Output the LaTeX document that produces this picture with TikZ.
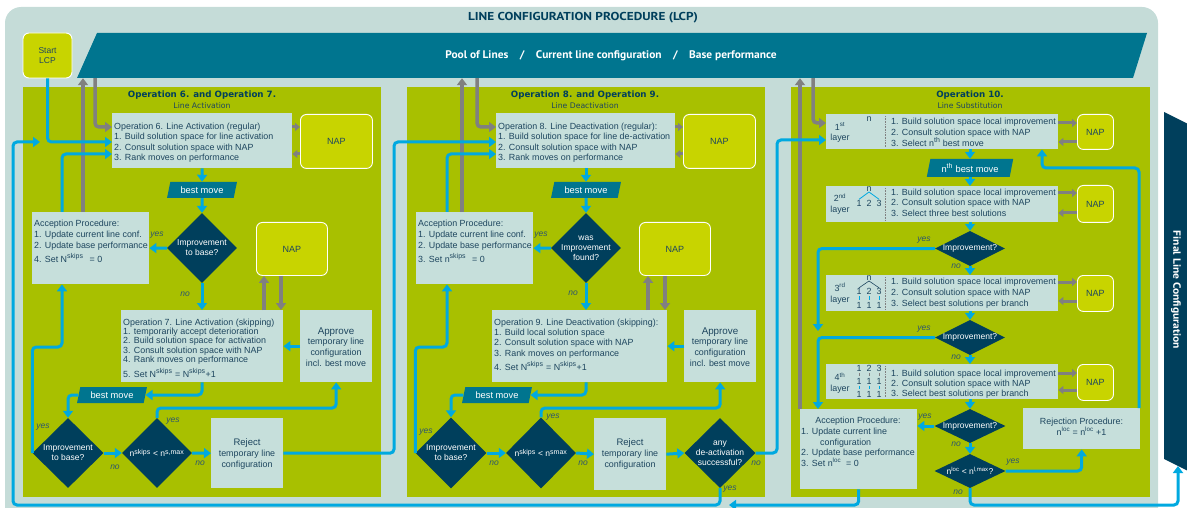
\documentclass[tikz,border=0pt]{standalone}
\usepackage{fontspec}
\setmainfont{Liberation Sans}
\newfontfamily\headfont{PT Sans}
\newfontfamily\opfont{DejaVu Sans}
\usetikzlibrary{shapes.geometric,arrows.meta}

\definecolor{cbg}{HTML}{C5DCD8}
\definecolor{cbox}{HTML}{C6DFDB}
\definecolor{colive}{HTML}{A8C000}
\definecolor{cnap}{HTML}{C8D400}
\definecolor{cteal}{HTML}{00758F}
\definecolor{cnavy}{HTML}{003F5C}
\definecolor{ccyan}{HTML}{00A9E0}
\definecolor{cgray}{HTML}{808080}
\definecolor{ctext}{HTML}{1E465F}
\definecolor{clabel}{HTML}{2B5570}

% larger superscript for counters
\newcommand\supx[1]{\textsuperscript{\fontsize{7}{8}\selectfont #1}}

\tikzset{
  panel/.style={fill=colive, inner sep=0pt, anchor=north west},
  lbox/.style={fill=cbox, inner sep=0pt, anchor=north west},
  nap/.style={fill=cnap, draw=white, line width=0.9pt, rounded corners=6pt, inner sep=0pt,
    anchor=north west, text=ctext, font=\fontsize{9}{10}\selectfont},
  dia/.style={diamond, fill=cnavy, inner sep=0pt},
  dtext/.style={text=white, font=\fontsize{8.5}{10}\selectfont, align=center, inner sep=0pt},
  para/.style={trapezium, trapezium left angle=72, trapezium right angle=108,
    trapezium stretches=true, fill=cteal, text=white, inner sep=0pt,
    font=\fontsize{9.3}{10}\selectfont},
  bt/.style={text=ctext, align=left, inner sep=0pt, anchor=north west,
    font=\fontsize{8.9}{10.4}\selectfont},
  ct/.style={text=ctext, align=center, inner sep=0pt, font=\fontsize{8.9}{10.7}\selectfont},
  dg/.style={text=ctext, inner sep=0.4pt, font=\fontsize{8.9}{10}\selectfont},
  yn/.style={text=clabel, font=\fontsize{8.5}{10}\selectfont\itshape, inner sep=0pt},
  carr/.style={draw=ccyan, line width=3pt, rounded corners=4pt,
    -{Triangle[width=10pt,length=7pt]}},
  garr/.style={draw=cgray, line width=3.5pt, rounded corners=4pt,
    -{Triangle[width=10pt,length=7pt]}},
  gsm/.style={draw=cgray, line width=3pt, -{Triangle[width=8pt,length=5pt]}},
  ptitle/.style={text=cnavy, font=\opfont\bfseries\fontsize{8.7}{10}\selectfont, inner sep=0pt},
  psub/.style={text=ctext, font=\opfont\fontsize{7.7}{10}\selectfont, inner sep=0pt},
}

\begin{document}
\begin{tikzpicture}[x=1pt,y=-1pt]
\clip (0,0) rectangle (1187,508);

% background frame
\fill[cbg, rounded corners=16pt] (5,7) rectangle (1158,540);
\node[text=cnavy, inner sep=0pt, font=\headfont\bfseries\fontsize{11.5}{12}\selectfont] (title) at (583,18)
  {\scalebox{1.15}[1]{LINE CONFIGURATION PROCEDURE (LCP)}};

% pool banner
\fill[cteal] (97,33) -- (1147,33) -- (1133,78) -- (77,78) -- cycle;
\node[inner sep=0pt, minimum width=1000pt, minimum height=45pt, text=white,
  font=\headfont\bfseries\fontsize{11}{12}\selectfont] (pool) at (611,55.5)
  {\scalebox{1.04}[1]{Pool of Lines\quad /\quad Current line configuration\quad /\quad Base performance}};

% final banner
\fill[cnavy] (1164,112) -- (1190,125) -- (1190,472) -- (1164,459) -- cycle;
\node[rotate=-90, text=white, inner sep=0pt,
  font=\headfont\bfseries\fontsize{10.5}{11}\selectfont] (fin) at (1176,290)
  {\scalebox{1.1}[1]{Final Line Configuration}};

% start
\node[nap, anchor=center, minimum width=49pt, minimum height=45pt, align=center,
  font=\fontsize{8.5}{10}\selectfont] (start) at (47.5,55.5) {Start\\LCP};

% panels
\node[panel, minimum width=358pt, minimum height=410pt] (p1) at (23,87) {};
\node[panel, minimum width=358pt, minimum height=410pt] (p2) at (407,87) {};
\node[panel, minimum width=359pt, minimum height=410pt] (p3) at (791,87) {};

\node[ptitle] (p1h) at (202,95) {Operation 6. and Operation 7.};
\node[psub] (p1s) at (202,105.5) {Line Activation};
\node[ptitle] (p2h) at (585,95) {Operation 8. and Operation 9.};
\node[psub] (p2s) at (585,105.5) {Line Deactivation};
\node[ptitle] (p3h) at (970,95) {Operation 10.};
\node[psub] (p3s) at (970,105.5) {Line Substitution};

% ---------- panel 1: line activation ----------
\node[lbox, minimum width=180pt, minimum height=55pt] (op6) at (112,113) {};
\node[bt] (op6t) at (114,122.7) {Operation 6. Line Activation (regular)\\
  1. Build solution space for line activation\\2. Consult solution space with NAP\\
  3. Rank moves on performance};
\node[nap, minimum width=72pt, minimum height=54pt] (nap1) at (300,114) {NAP};
\node[para, minimum width=70pt, minimum height=16pt] (bm1) at (202,190) {best move};
\node[dia, minimum width=70pt, minimum height=70pt] (d1) at (202,248) {};
\node[dtext] (d1t) at (d1) {Improvement\\to base?};
\node[lbox, minimum width=117pt, minimum height=72pt] (acc1) at (32,212) {};
\node[bt, font=\fontsize{8.9}{11}\selectfont] (acc1t) at (34,219.5) {Acception Procedure:\\
  1. Update current line conf.\\2. Update base performance\\[3pt]
  4. Set N\supx{skips}\hspace{6pt}= 0};
\node[nap, minimum width=71pt, minimum height=53pt] (nap2) at (256,222) {NAP};
\node[lbox, minimum width=162pt, minimum height=72pt] (op7) at (121,310) {};
\node[bt, font=\fontsize{8.9}{9.3}\selectfont] (op7t) at (123,318.5) {Operation 7. Line Activation (skipping)\\
  1. temporarily accept deterioration\\2. Build solution space for activation\\
  3. Consult solution space with NAP\\4. Rank moves on performance\\[3pt]
  5. Set N\supx{skips} = N\supx{skips}+1};
\node[lbox, minimum width=72pt, minimum height=72pt] (appr1) at (300,310) {};
\node[ct] (appr1t) at (336,347) {{\fontsize{9.8}{11}\selectfont Approve}\\temporary line\\configuration\\incl. best move};
\node[para, minimum width=70pt, minimum height=16pt] (bm2) at (112,395) {best move};
\node[dia, minimum width=71pt, minimum height=70pt] (d2) at (68,453) {};
\node[dtext] (d2t) at (d2) {Improvement\\to base?};
\node[dia, minimum width=70pt, minimum height=70pt] (d3) at (157,453) {};
\node[dtext] (d3t) at (d3) {n\supx{skips} < n\supx{s,max}};
\node[lbox, minimum width=72pt, minimum height=70pt] (rej1) at (211,418) {};
\node[ct] (rej1t) at (247,454) {{\fontsize{9.5}{11}\selectfont Reject}\\temporary line\\configuration};

% ---------- panel 2: line deactivation ----------
\node[lbox, minimum width=179pt, minimum height=55pt] (op8) at (496,113) {};
\node[bt] (op8t) at (498,122.7) {Operation 8. Line Deactivation (regular):\\
  1. Build solution space for line de-activation\\2. Consult solution space with NAP\\
  3. Rank moves on performance};
\node[nap, minimum width=72pt, minimum height=54pt] (nap3) at (683,114) {NAP};
\node[para, minimum width=70pt, minimum height=16pt] (bm3) at (586,190) {best move};
\node[dia, minimum width=70pt, minimum height=70pt] (d4) at (586,248) {};
\node[dtext] (d4t) at (d4) {was\\Improvement\\found?};
\node[lbox, minimum width=117pt, minimum height=72pt] (acc2) at (416,212) {};
\node[bt, font=\fontsize{8.9}{11}\selectfont] (acc2t) at (418,219.5) {Acception Procedure:\\
  1. Update current line conf.\\2. Update base performance\\[3pt]
  3. Set n\supx{skips}\hspace{6pt}= 0};
\node[nap, minimum width=71pt, minimum height=53pt] (nap4) at (639,222) {NAP};
\node[lbox, minimum width=175pt, minimum height=72pt] (op9) at (492,310) {};
\node[bt, font=\fontsize{8.9}{10.3}\selectfont] (op9t) at (494,318.5) {Operation 9. Line Deactivation (skipping):\\
  1. Build local solution space\\2. Consult solution space with NAP\\
  3. Rank moves on performance\\[3pt]
  4. Set N\supx{skips} = N\supx{skips}+1};
\node[lbox, minimum width=72pt, minimum height=72pt] (appr2) at (684,310) {};
\node[ct] (appr2t) at (720,347) {{\fontsize{9.8}{11}\selectfont Approve}\\temporary line\\configuration\\incl. best move};
\node[para, minimum width=70pt, minimum height=16pt] (bm4) at (497,395) {best move};
\node[dia, minimum width=71pt, minimum height=71pt] (d5) at (451,453) {};
\node[dtext] (d5t) at (d5) {Improvement\\to base?};
\node[dia, minimum width=70pt, minimum height=71pt] (d6) at (541,453) {};
\node[dtext] (d6t) at (d6) {n\supx{skips} < n\supx{smax}};
\node[lbox, minimum width=72pt, minimum height=72pt] (rej2) at (594,418) {};
\node[ct] (rej2t) at (630,454) {{\fontsize{9.5}{11}\selectfont Reject}\\temporary line\\configuration};
\node[dia, minimum width=71pt, minimum height=70pt] (d7) at (720,453) {};
\node[dtext] (d7t) at (d7) {any\\de-activation\\successful?};

% ---------- panel 3: line substitution ----------
\node[lbox, minimum width=232pt, minimum height=35pt] (lay1) at (826,114) {};
\node[lbox, minimum width=232pt, minimum height=36pt] (lay2) at (826,186) {};
\node[lbox, minimum width=232pt, minimum height=36pt] (lay3) at (826,275) {};
\node[lbox, minimum width=232pt, minimum height=35pt] (lay4) at (826,364) {};
\node[nap, minimum width=36pt, minimum height=35pt] (nl1) at (1077,114) {NAP};
\node[nap, minimum width=36pt, minimum height=37pt] (nl2) at (1077,185) {NAP};
\node[nap, minimum width=36pt, minimum height=36pt] (nl3) at (1077,275) {NAP};
\node[nap, minimum width=36pt, minimum height=36pt] (nl4) at (1077,364) {NAP};

\coordinate (sep) at (885,0);
\foreach \i in {1,...,4}
  \draw[cgray, densely dotted, line width=0.6pt, shorten >=2pt, shorten <=2pt]
    (lay\i.north -| sep) -- (lay\i.south -| sep);

\node[bt, font=\fontsize{8.9}{11.2}\selectfont] (lay1t) at (891,117.7) {1. Build solution space local improvement\\
  2. Consult solution space with NAP\\3. Select n\supx{th} best move};
\node[bt, font=\fontsize{8.9}{10.6}\selectfont] (lay2t) at (891,188.7) {1. Build solution space local improvement\\
  2. Consult solution space with NAP\\3. Select three best solutions};
\node[bt, font=\fontsize{8.9}{10.9}\selectfont] (lay3t) at (891,277.7) {1. Build solution space local improvement\\
  2. Consult solution space with NAP\\3. Select best solutions per branch};
\node[bt, font=\fontsize{8.9}{10.2}\selectfont] (lay4t) at (891,369.7) {1. Build solution space local improvement\\
  2. Consult solution space with NAP\\3. Select best solutions per branch};

\node[ct] (l1n) at (840,132.5) {1\textsuperscript{st}\\layer};
\node[ct] (l2n) at (840,204) {2\textsuperscript{nd}\\layer};
\node[ct] (l3n) at (840,293.5) {3\textsuperscript{rd}\\layer};
\node[ct] (l4n) at (840,383) {4\textsuperscript{th}\\layer};

% branching trees
\node[dg] (t1n) at (869,119) {n};
\node[dg] (t2n) at (869,189) {n};
\node[dg] (t2a) at (859,203) {1};
\node[dg] (t2b) at (869,203) {2};
\node[dg] (t2c) at (879,203) {3};
\draw[ccyan, line width=0.8pt] (t2n.south) -- (t2a.north);
\draw[ccyan, line width=0.8pt] (t2n.south) -- (t2c.north);
\node[dg] (t3n) at (869,278) {n};
\node[dg] (t3a) at (859,291.5) {1};
\node[dg] (t3b) at (869,291.5) {2};
\node[dg] (t3c) at (879,291.5) {3};
\node[dg] (t3d) at (859,305) {1};
\node[dg] (t3e) at (869,305) {1};
\node[dg] (t3f) at (879,305) {1};
\draw[ctext, line width=0.6pt] (t3n.south) -- (t3a.north);
\draw[ctext, line width=0.6pt] (t3n.south) -- (t3c.north);
\foreach \u/\v in {a/d,b/e,c/f}
  \draw[ccyan, line width=0.9pt, shorten >=1pt, shorten <=1pt] (t3\u.south) -- (t3\v.north);
\node[dg] (t4a) at (859,368) {1};
\node[dg] (t4b) at (869,368) {2};
\node[dg] (t4c) at (879,368) {3};
\node[dg] (t4d) at (859,381) {1};
\node[dg] (t4e) at (869,381) {1};
\node[dg] (t4f) at (879,381) {1};
\node[dg] (t4g) at (859,394) {1};
\node[dg] (t4h) at (869,394) {1};
\node[dg] (t4i) at (879,394) {1};
\foreach \u/\v in {a/d,b/e,c/f}
  \draw[cgray, line width=0.9pt, shorten >=1pt, shorten <=1pt] (t4\u.south) -- (t4\v.north);
\foreach \u/\v in {d/g,e/h,f/i}
  \draw[ccyan, line width=0.9pt, shorten >=1pt, shorten <=1pt] (t4\u.south) -- (t4\v.north);

\node[para, trapezium left angle=74, trapezium right angle=106, minimum width=87pt,
  minimum height=18pt] (nth) at (970,168) {n\supx{th} best move};
\node[dia, minimum width=70pt, minimum height=35pt] (dA) at (970,248.5) {};
\node[dtext] (dAt) at (dA) {Improvement?};
\node[dia, minimum width=70pt, minimum height=35pt] (dB) at (970,337.5) {};
\node[dtext] (dBt) at (dB) {Improvement?};
\node[dia, minimum width=71pt, minimum height=34pt] (dC) at (970,426) {};
\node[dtext] (dCt) at (dC) {Improvement?};
\node[dia, minimum width=71pt, minimum height=34pt] (dD) at (970,471) {};
\node[dtext] (dDt) at (dD) {n\textsuperscript{loc} < n\textsuperscript{l,max}?};

\node[lbox, minimum width=117pt, minimum height=80pt] (acc3) at (800,409) {};
\node[ct] (acc3h) at (858,421) {Acception Procedure:};
\node[bt, font=\fontsize{8.9}{10.7}\selectfont] (acc3t) at (801,427.7) {1. Update current line\\
  \hspace*{19pt}configuration\\2. Update base performance\\3. Set n\textsuperscript{loc}\hspace{5pt}= 0};
\node[lbox, minimum width=117pt, minimum height=41pt] (rejp) at (1023,408) {};
\node[ct] (rejpt) at (1081.5,426.5) {Rejection Procedure:\\n\textsuperscript{loc} = n\textsuperscript{loc} +1};

% ---------- routing helpers ----------
\coordinate (yIn1) at (0,142);
\coordinate (yIn1b) at (0,140);
\coordinate (yIn2) at (0,154);
\coordinate (yG) at (0,127);
\coordinate (yGb) at (0,123);
\coordinate (yL) at (0,347);
\coordinate (yY) at (0,408);
\coordinate (yBot) at (0,505);
\coordinate (yR) at (0,168);
\coordinate (cL0) at (13,0);
\coordinate (cA1) at (62,0);
\coordinate (cG1u) at (83,0);
\coordinate (cG1d) at (95,0);
\coordinate (c1R) at (394,0);
\coordinate (cA2) at (447,0);
\coordinate (cG2u) at (462,0);
\coordinate (cG2d) at (477,0);
\coordinate (c2R) at (777,0);
\coordinate (cG3u) at (800,0);
\coordinate (cG3d) at (813,0);
\coordinate (cL3) at (818,0);
\coordinate (cK) at (1042,0);
\coordinate (cR3) at (1139,0);
\coordinate (cFin) at (1178,0);
\coordinate (cN1u) at (264,0);
\coordinate (cN1d) at (281,0);
\coordinate (cN2u) at (648,0);
\coordinate (cN2d) at (665,0);
\coordinate (j1) at (40,142);
\coordinate (mrg) at (729,505);
\coordinate (mB) at (818,331);
\coordinate (finB) at (1178,466);

% ---------- gray data arrows ----------
\draw[garr] (acc1.north -| cG1u) -- (pool.south -| cG1u);
\draw[garr] (pool.south -| cG1d) |- (op6.west |- yG);
\draw[garr] (acc2.north -| cG2u) -- (pool.south -| cG2u);
\draw[garr] (pool.south -| cG2d) |- (op8.west |- yG);
\draw[garr] (acc3.north -| cG3u) -- (pool.south -| cG3u);
\draw[garr] (pool.south -| cG3d) |- (lay1.west |- yGb);
\draw[gsm] (op6.east |- yG) -- (nap1.west |- yG);
\draw[gsm] (nap1.west |- yIn2) -- (op6.east |- yIn2);
\draw[gsm] (op8.east |- yG) -- (nap3.west |- yG);
\draw[gsm] (nap3.west |- yIn2) -- (op8.east |- yIn2);
\draw[garr] (op7.north -| cN1u) -- (nap2.south -| cN1u);
\draw[garr] (nap2.south -| cN1d) -- (op7.north -| cN1d);
\draw[garr] (op9.north -| cN2u) -- (nap4.south -| cN2u);
\draw[garr] (nap4.south -| cN2d) -- (op9.north -| cN2d);
\foreach \i/\ya/\yb in {1/123/142,2/193/213,3/282/301,4/373/390}{
  \coordinate (ra\i) at (0,\ya);
  \coordinate (rb\i) at (0,\yb);
  \draw[gsm] (lay\i.east |- ra\i) -- (nl\i.west |- ra\i);
  \draw[gsm] (nl\i.west |- rb\i) -- (lay\i.east |- rb\i);
}

% ---------- cyan flow: panel 1 ----------
\draw[carr] (start.south) |- (op6.west |- yIn1);
\draw[carr] (d7.south) -- (d7.south |- yBot) -- (cL0 |- yBot) -- (cL0 |- yIn1) -- (j1);
\draw[carr] (op6.south) -- (bm1.north);
\draw[carr] (bm1.south) -- (d1.north);
\draw[carr] (d1.west) -- (acc1.east);
\draw[carr] (d1.south) -- (op7.north -| d1.south);
\draw[carr] (acc1.north -| cA1) |- (op6.west |- yIn2);
\draw[carr] (d2.west) -- (d2.west |- yL) -| (acc1.south -| cA1);
\draw[carr] (appr1.west) -- (op7.east);
\draw[carr] (op7.south -| d1.south) |- (bm2.east);
\draw[carr] (bm2.west) -| (d2.north);
\draw[carr] (d2.east) -- (d3.west);
\draw[carr] (d3.north) -- (d3.north |- yY) -| (appr1.south);
\draw[carr] (d3.east) -- (rej1.west);
\draw[carr] (rej1.east) -| (c1R |- yIn1) -- (op8.west |- yIn1);

% ---------- cyan flow: panel 2 ----------
\draw[carr] (op8.south -| bm3.north) -- (bm3.north);
\draw[carr] (bm3.south) -- (d4.north);
\draw[carr] (d4.west) -- (acc2.east);
\draw[carr] (d4.south) -- (op9.north -| d4.south);
\draw[carr] (acc2.north -| cA2) |- (op8.west |- yIn2);
\draw[carr] (d5.west) -- (d5.west |- yL) -| (acc2.south -| cA2);
\draw[carr] (appr2.west) -- (op9.east);
\draw[carr] (op9.south -| d4.south) |- (bm4.east);
\draw[carr] (bm4.west) -| (d5.north);
\draw[carr] (d5.east) -- (d6.west);
\draw[carr] (d6.north) -- (d6.north |- yY) -| (appr2.south);
\draw[carr] (d6.east) -- (rej2.west);
\draw[carr] (rej2.east) -- (d7.west);
\draw[carr] (d7.east) -| (c2R |- yIn1b) -- (lay1.west |- yIn1b);

% ---------- cyan flow: panel 3 ----------
\draw[carr] (lay1.south -| nth.north) -- (nth.north);
\draw[carr] (nth.south) -- (lay2.north -| nth.south);
\draw[carr] (lay2.south -| dA.north) -- (dA.north);
\draw[carr] (dA.west) -| (mB);
\draw[carr] (dA.south) -- (lay3.north -| dA.south);
\draw[carr] (lay3.south -| dB.north) -- (dB.north);
\draw[carr] (dB.west) -| (acc3.north -| cL3);
\draw[carr] (dB.south) -- (lay4.north -| dB.south);
\draw[carr] (lay4.south -| dC.north) -- (dC.north);
\draw[carr] (dC.west) -- (acc3.east |- dC.west);
\draw[carr] (dC.south) -- (dD.north);
\draw[carr] (dD.east) -| (rejp.south);
\draw[carr] (rejp.north -| cR3) |- (cK |- yR) -- (lay1.south -| cK);
\draw[carr] (acc3.south) |- (mrg);
\draw[carr] (dD.south) |- (cFin |- yBot) -- (finB);

% ---------- branch labels ----------
\node[yn] (y1) at (157,235) {yes};
\node[yn] (n1) at (185,294) {no};
\node[yn] (y2) at (43,427) {yes};
\node[yn] (n2) at (115,467) {no};
\node[yn] (y3) at (173,421) {yes};
\node[yn] (n3) at (200,463) {no};
\node[yn] (y4) at (541,235) {yes};
\node[yn] (n4) at (573,293) {no};
\node[yn] (y5) at (426,432) {yes};
\node[yn] (n5) at (494,463) {no};
\node[yn] (y6) at (553,417) {yes};
\node[yn] (n6) at (583,463) {no};
\node[yn] (n7) at (756,463) {no};
\node[yn] (y7) at (730,489) {yes};
\node[yn] (yA) at (924,240) {yes};
\node[yn] (nA) at (956,266) {no};
\node[yn] (yB) at (924,329) {yes};
\node[yn] (nB) at (956,357) {no};
\node[yn] (yC) at (925,417) {yes};
\node[yn] (nC) at (956,444) {no};
\node[yn] (yD) at (1013,462) {yes};
\node[yn] (nD) at (958,492) {no};
\end{tikzpicture}
\end{document}
